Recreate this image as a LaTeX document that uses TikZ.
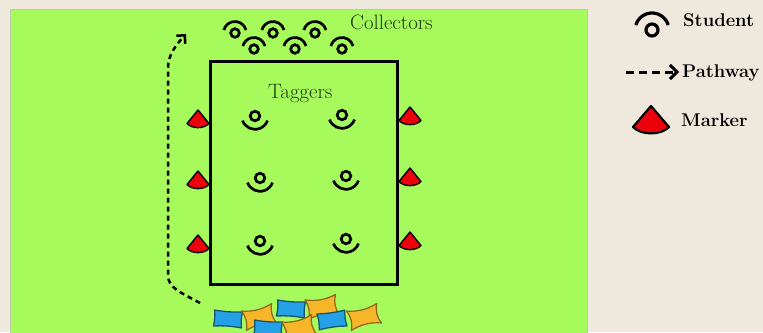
\documentclass[tikz,border=0pt]{standalone}
\usetikzlibrary{arrows.meta}

\definecolor{paper}{RGB}{239,233,221}
\definecolor{grass}{RGB}{166,250,92}
\definecolor{grassedge}{RGB}{185,205,165}
\definecolor{fieldtext}{RGB}{28,58,18}
\definecolor{conered}{RGB}{235,0,12}
\definecolor{bagblue}{RGB}{35,160,230}
\definecolor{bagblueedge}{RGB}{25,85,105}
\definecolor{bagorange}{RGB}{247,182,42}
\definecolor{bagorangeedge}{RGB}{140,100,25}

\tikzset{
  icon/.style={line width=2.7pt, draw=black},
  bigicon/.style={line width=3.2pt, draw=black},
  % student facing up (arc above the head)
  collector/.pic={
    \draw[icon] (0,0) circle[radius=4.3pt];
    \draw[icon] (15:11.5pt) arc[start angle=15,end angle=165,radius=11.5pt];
  },
  % student facing down (arc below the head)
  tagger/.pic={
    \draw[icon] (0,0) circle[radius=4.8pt];
    \draw[icon] (200:13.3pt) arc[start angle=200,end angle=340,radius=13.3pt];
  },
  legendstudent/.pic={
    \draw[bigicon] (0,0) circle[radius=6pt];
    \draw[bigicon] (17:17pt) arc[start angle=17,end angle=163,radius=17pt];
  },
  % red marker cone
  cone/.pic={
    \draw[line width=1.4pt, fill=conered, line join=round]
      (0pt,9pt) -- (-11pt,-4.5pt)
      .. controls (-6pt,-10pt) and (6pt,-10pt) .. (11pt,-4.5pt) -- cycle;
  },
  bigcone/.pic={
    \draw[line width=2.2pt, fill=conered, line join=round]
      (0pt,14pt) -- (-18pt,-7pt)
      .. controls (-10pt,-15.5pt) and (10pt,-15.5pt) .. (18pt,-7pt) -- cycle;
  },
  % bean bags
  bluebag/.pic={
    \draw[line width=1.3pt, draw=bagblueedge, fill=bagblue, line join=round]
      (-14pt,-8pt) .. controls (-4pt,-6.8pt) and (4pt,-6.8pt) .. (14pt,-8pt)
      .. controls (13pt,-2pt) and (13pt,2pt) .. (14pt,8pt)
      .. controls (4pt,7pt) and (-4pt,7pt) .. (-14pt,8pt)
      .. controls (-13pt,2pt) and (-13pt,-2pt) .. cycle;
  },
  orangebag/.pic={
    \draw[line width=1.2pt, draw=bagorangeedge, fill=bagorange, line join=round]
      (-15.5pt,-10pt) .. controls (-5pt,-6.5pt) and (5pt,-6.5pt) .. (15.5pt,-10pt)
      .. controls (12.5pt,-3pt) and (12.5pt,3pt) .. (15.5pt,10pt)
      .. controls (5pt,6.5pt) and (-5pt,6.5pt) .. (-15.5pt,10pt)
      .. controls (-12.5pt,3pt) and (-12.5pt,-3pt) .. cycle;
  },
  fieldlabel/.style={text=fieldtext, font=\fontsize{20.8}{24}\selectfont, inner sep=0pt, anchor=base west},
  legendlabel/.style={text=black, font=\fontsize{18.4}{22}\selectfont\bfseries, inner sep=0pt, anchor=base west},
  pathway/.style={line width=2.5pt, dash pattern=on 5pt off 4pt, -{Straight Barb[length=6pt,width=12pt]}},
  legendpath/.style={line width=3pt, dash pattern=on 8pt off 5pt, -{Straight Barb[length=7pt,width=14pt]}},
}

\begin{document}
\begin{tikzpicture}[x=1pt,y=-1pt]
  \useasboundingbox (0,0) rectangle (763,332);
  \fill[paper] (0,0) rectangle (763,332);

  % playing field
  \filldraw[fill=grass, draw=grassedge, line width=0.8pt] (10,9) rectangle (587,334);

  % taggers' area
  \node[draw, line width=3pt, minimum width=187pt, minimum height=223pt, inner sep=0pt]
    (taggerbox) at (303.5,172.5) {};
  \node[fieldlabel] (taggerlabel) at (268,98) {Taggers};
  \node[fieldlabel] (collectorlabel) at (350,29) {Collectors};

  % collectors waiting above the area
  \pic at (235,33) {collector};
  \pic at (273,33) {collector};
  \pic at (315,33) {collector};
  \pic at (254,49) {collector};
  \pic at (295,49) {collector};
  \pic at (342,49) {collector};

  % taggers inside the area
  \pic at (255,116) {tagger};
  \pic at (342,115) {tagger};
  \pic at (260,178) {tagger};
  \pic at (346,176) {tagger};
  \pic at (260,241) {tagger};
  \pic at (346,239) {tagger};

  % marker cones along the sides
  \pic at (198,119) {cone};
  \pic at (198,180) {cone};
  \pic at (198,244) {cone};
  \pic at (410,116) {cone};
  \pic at (410,177) {cone};
  \pic at (410,241) {cone};

  % pathway of the collectors
  \coordinate (pathstart) at (200,303);
  \coordinate (pathlow) at (168,275);
  \coordinate (pathhigh) at (168,68);
  \coordinate (pathend) at (186,34);
  \draw[pathway] (pathstart) .. controls (180,292) and (168,288) .. (pathlow)
    -- (pathhigh) .. controls (168,55) and (176,45) .. (pathend);

  % bean bags
  \pic[rotate=-4] at (291,309) {bluebag};
  \pic[rotate=10] at (322,307) {orangebag};
  \pic[rotate=-4] at (228,319) {bluebag};
  \pic[rotate=14] at (259,317) {orangebag};
  \pic[rotate=8] at (332,320) {bluebag};
  \pic[rotate=14] at (364,317) {orangebag};
  \pic[rotate=-4] at (268,329) {bluebag};
  \pic[rotate=14] at (299,328) {orangebag};

  % legend
  \pic at (652,30) {legendstudent};
  \node[legendlabel] (legstudent) at (683,27) {Student};
  \coordinate (legpathA) at (626,72);
  \coordinate (legpathB) at (679,72);
  \draw[legendpath] (legpathA) -- (legpathB);
  \node[legendlabel] (legpathway) at (682,77) {Pathway};
  \pic at (651,120) {bigcone};
  \node[legendlabel] (legmarker) at (681,126) {Marker};
\end{tikzpicture}
\end{document}
